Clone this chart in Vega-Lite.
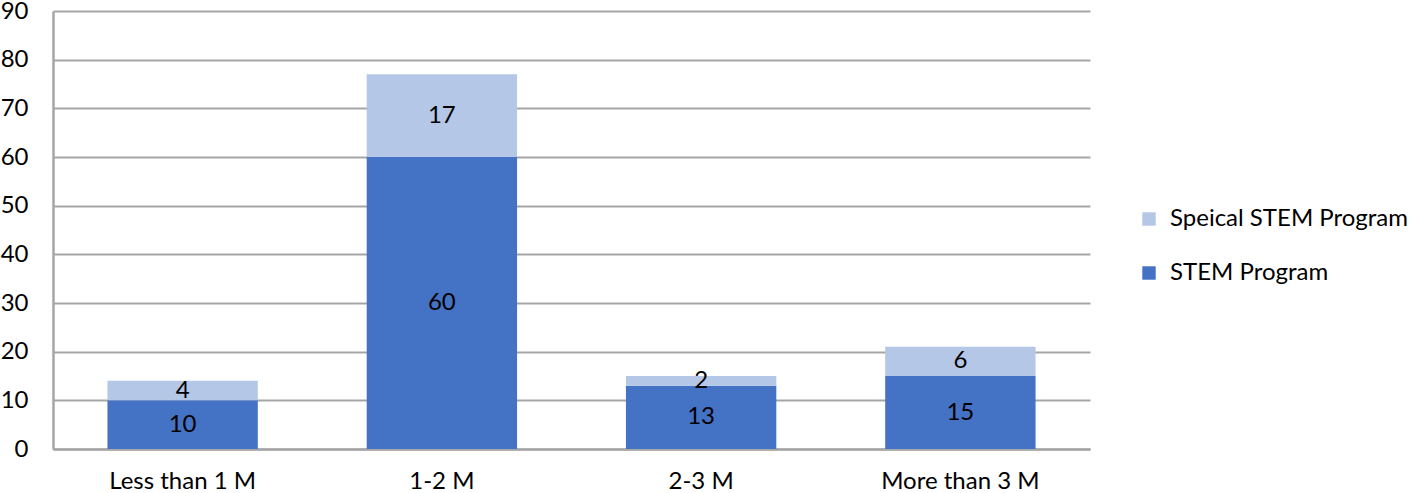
{
  "$schema": "https://vega.github.io/schema/vega-lite/v6.json",
  "width": 1037,
  "height": 438,
  "autosize": {"type": "none"},
  "padding": {"left": 53, "top": 11, "right": 328, "bottom": 44},
  "background": "white",
  "config": {
    "font": "Lato",
    "view": {"stroke": null},
    "legend": {"orient": "none", "legendX": 1084, "legendY": 196}
  },
  "data": {
    "values": [
      {"category": "Less than 1 M", "series": "STEM Program", "value": 10, "ord": 1},
      {"category": "Less than 1 M", "series": "Speical STEM Program", "value": 4, "ord": 2},
      {"category": "1-2 M", "series": "STEM Program", "value": 60, "ord": 1},
      {"category": "1-2 M", "series": "Speical STEM Program", "value": 17, "ord": 2},
      {"category": "2-3 M", "series": "STEM Program", "value": 13, "ord": 1},
      {"category": "2-3 M", "series": "Speical STEM Program", "value": 2, "ord": 2},
      {"category": "More than 3 M", "series": "STEM Program", "value": 15, "ord": 1},
      {"category": "More than 3 M", "series": "Speical STEM Program", "value": 6, "ord": 2}
    ]
  },
  "transform": [
    {"stack": "value", "groupby": ["category"], "sort": [{"field": "ord", "order": "ascending"}], "as": ["y0", "y1"]},
    {"calculate": "(datum.y0 + datum.y1) / 2", "as": "ymid"}
  ],
  "encoding": {
    "x": {
      "field": "category",
      "type": "nominal",
      "sort": ["Less than 1 M", "1-2 M", "2-3 M", "More than 3 M"],
      "scale": {"paddingInner": 0.42, "paddingOuter": 0.21},
      "axis": {
        "title": null,
        "labelAngle": 0,
        "labelFontSize": 24,
        "labelColor": "#000000",
        "labelPadding": 20,
        "ticks": false,
        "domainColor": "#A6A6A6",
        "domainWidth": 2.5,
        "grid": false
      }
    }
  },
  "layer": [
    {
      "mark": {"type": "bar"},
      "encoding": {
        "y": {
          "field": "y1",
          "type": "quantitative",
          "scale": {"domain": [0, 90], "nice": false},
          "axis": {
            "title": null,
            "values": [0, 10, 20, 30, 40, 50, 60, 70, 80, 90],
            "labelFontSize": 24,
            "labelColor": "#000000",
            "labelPadding": 25,
            "ticks": false,
            "domainColor": "#A6A6A6",
            "domainWidth": 2.5,
            "gridColor": "#A6A6A6",
            "gridWidth": 1.8
          }
        },
        "y2": {"field": "y0"},
        "color": {
          "field": "series",
          "type": "nominal",
          "scale": {"domain": ["Speical STEM Program", "STEM Program"], "range": ["#B4C7E7", "#4472C4"]},
          "legend": {
            "title": null,
            "labelFontSize": 24,
            "labelColor": "#000000",
            "labelLimit": 0,
            "symbolType": "square",
            "symbolSize": 180,
            "symbolStrokeWidth": 0,
            "symbolOpacity": 1,
            "rowPadding": 30,
            "labelOffset": 9
          }
        }
      }
    },
    {
      "mark": {"type": "text", "fontSize": 24, "color": "#000000", "baseline": "middle"},
      "encoding": {
        "y": {"field": "ymid", "type": "quantitative"},
        "text": {"field": "value", "type": "quantitative"}
      }
    }
  ]
}
